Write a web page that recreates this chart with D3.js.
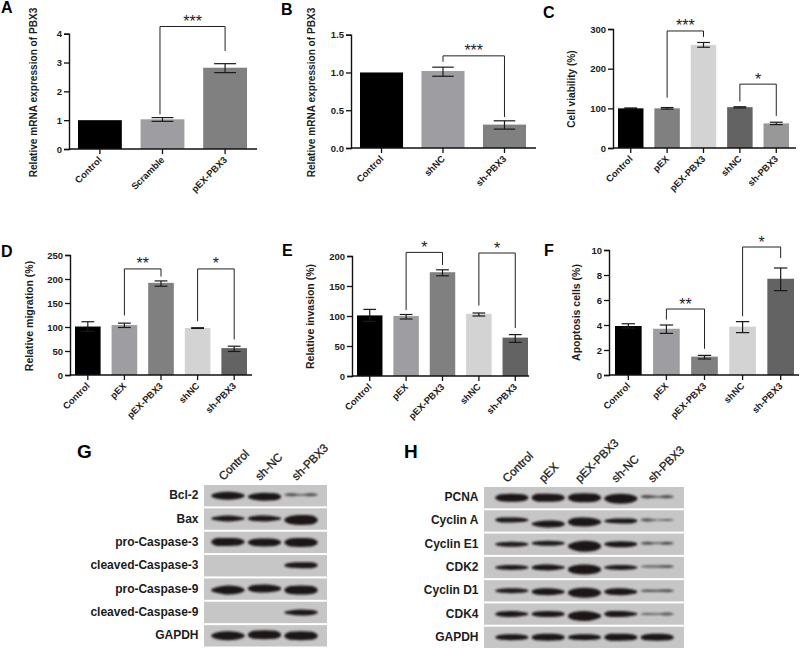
<!DOCTYPE html>
<html><head><meta charset="utf-8">
<script src="https://cdn.jsdelivr.net/npm/d3@7"></script>
<style>html,body{margin:0;padding:0;background:#fff}svg{display:block}text{font-family:"Liberation Sans",Arial,sans-serif;fill:#1c1c1c}</style>
</head><body><div id="c"></div>
<script>
// ---------- Data ----------
const catsA=["Control","Scramble","pEX-PBX3"];
const catsB=["Control","shNC","sh-PBX3"];
const catsFive=["Control","pEX","pEX-PBX3","shNC","sh-PBX3"];
const valsA=[1,1.03,2.82], lowA=[1,0.96,2.65], highA=[1,1.09,2.96];
const valsB=[1,1.02,0.31], lowB=[1,0.95,0.25], highB=[1,1.07,0.36];
const valsC=[100,100,260,103,62], lowC=[99,98,254,101,59], highC=[101,102,266,104,65];
const valsD=[101,104,192,98,56], lowD=[91,99,185,97,49], highD=[111,108,196,98.5,60];
const valsE=[101,100,173,103.6,64], lowE=[91,95,167,100,56], highE=[111,102.5,177,105,69];
const valsF=[3.92,3.7,1.47,3.87,7.7], lowF=[3.75,3.33,1.28,3.39,6.75], highF=[4.1,4.0,1.57,4.27,8.56];
const ticksA=[0,1,2,3,4], ticksB=[0,0.5,1,1.5], ticksC=[0,100,200,300], ticksD=[0,50,100,150,200,250], ticksE=[0,50,100,150,200], ticksF=[0,2,4,6,8,10];
const greysABD=["#000000","#9e9ea2","#808080","#d3d3d3","#636363"];
const greysAB=["#000000","#9e9ea2","#808080"];
const greysC=["#000000","#808080","#d3d3d3","#636363","#989898"];
// brackets: from index, to index, top value, left end value, right end value, stars
const bracketsA=[[0.96,2,4.25,1.2,3.4,"***"]];
const bracketsB=[[1,2,1.22,1.14,0.41,"***"]];
const bracketsC=[[1,2,295,127,280,"***"],[3,4,161,117,81,"*"]];
const bracketsD=[[1,2,221,124,205,"**"],[3,4,221,112,74,"*"]];
const bracketsE=[[1,2,206,110,185,"*"],[3,4,205,117.5,80,"*"]];
const bracketsF=[[1,2,5.28,4.43,2.1,"**"],[3,4,10.24,4.7,9.36,"*"]];
const lanesG=["Control","sh-NC","sh-PBX3"];
const rowsG=["Bcl-2","Bax","pro-Caspase-3","cleaved-Caspase-3","pro-Caspase-9","cleaved-Caspase-9","GAPDH"];
// band thickness left, middle, right, and vertical drift
const bandsG=[
 [[6,8,6,0],[6,8,7,1],[3,1.5,3,-1]],
 [[4,6,4,-.5],[5,6,4,-.5],[8,10,9,1]],
 [[8,8,7,-.5],[7,8,7,0],[8,9,8,0]],
 [null,null,[5,6,6,-.5]],
 [[6,9,7,1],[7,8,6,-.5],[8,9,8,1]],
 [null,null,[4,6,5,0]],
 [[7,9,7,0],[8,9,8,-1],[8,9,8,0]]];
const lanesH=["Control","pEX","pEX-PBX3","sh-NC","sh-PBX3"];
const rowsH=["PCNA","Cyclin A","Cyclin E1","CDK2","Cyclin D1","CDK4","GAPDH"];
const bandsH=[
 [[7,8,7,0],[8,8,7,0],[8,9,8,0],[8,10,8,1],[3.5,1.5,3,-1]],
 [[5,5,4,-1],[5,7,6,3],[8,9,7,1],[4,5,5,0],[3.5,1,2,-1]],
 [[4,5,4,0],[4,5,4,-1],[8,11,9,2],[5,6,5,0],[3,1.5,3,-1]],
 [[4,5,4,0],[5,6,4,0],[8,10,8,2],[4,5,4,0],[2,2,3,-1]],
 [[4,5,4,0],[6,7,5,1],[8,10,8,2],[6,7,5,1],[2.5,2,3,0]],
 [[5,6,4,0],[5,6,5,0],[8,10,7,2],[6,6,4,0],[2,1.5,3,0]],
 [[5,6,5,0],[6,7,6,0],[5,6,5,0],[7,7,6,0],[6,7,6,0]]];

// ---------- Drawing ----------
const svg=d3.select("#c").append("svg").attr("width",800).attr("height",648);
const defs=svg.append("defs");
defs.append("filter").attr("id","soft").attr("x","-20%").attr("y","-80%").attr("width","140%").attr("height","260%")
  .append("feGaussianBlur").attr("stdDeviation",0.9);

function barPanel(o){
  const g=svg.append("g");
  const x=d3.scaleBand().domain(o.cats).range(o.xr).paddingInner(o.pad||0.3).paddingOuter(0);
  const y=d3.scaleLinear().domain([o.ticks[0],o.ticks[o.ticks.length-1]]).range(o.yr);
  const cx=i=>x(o.cats[0])+x.bandwidth()/2+i*x.step();
  g.selectAll("rect").data(o.vals).join("rect")
    .attr("x",(d,i)=>x(o.cats[i])).attr("width",x.bandwidth())
    .attr("y",d=>y(d)).attr("height",d=>y(0)-y(d))
    .attr("fill",(d,i)=>o.colors[i]);
  // error bars
  const capW=x.bandwidth()/2;
  o.vals.forEach((d,i)=>{
    if(o.high[i]-o.low[i]<=0)return;
    const c=cx(i);
    const e=g.append("g").attr("stroke","#1a1a1a").attr("stroke-width",1.2);
    e.append("line").attr("x1",c).attr("x2",c).attr("y1",y(o.low[i])).attr("y2",y(o.high[i]));
    [o.low[i],o.high[i]].forEach(v=>e.append("line").attr("x1",c-capW/2).attr("x2",c+capW/2).attr("y1",y(v)).attr("y2",y(v)));
  });
  // axes
  const ya=d3.axisLeft(y).tickValues(o.ticks).tickSize(5).tickPadding(2).tickFormat(o.fmt||d3.format("d"));
  const xa=d3.axisBottom(x).tickSize(5).tickFormat("");
  const gy=g.append("g").attr("transform",`translate(${o.xAxisStart},0)`).call(ya);
  const gx=g.append("g").attr("transform",`translate(0,${y(0)})`).call(xa);
  gx.select(".domain").attr("d",`M${o.xAxisStart},0H${o.xAxisEnd}`);
  g.selectAll(".domain").attr("stroke","#111").attr("stroke-width",1.4);
  g.selectAll(".tick line").attr("stroke","#111").attr("stroke-width",1.3);
  gy.selectAll("text").attr("font-size",9.5).attr("font-weight","bold");
  // category labels
  o.cats.forEach((c,i)=>{
    g.append("text").attr("text-anchor","end").attr("font-size",9.4).attr("font-weight","bold")
     .attr("transform",`translate(${cx(i)+2.5},${y(0)+11.5}) rotate(-45)`).text(c);
  });
  // y title
  g.append("text").attr("text-anchor","middle").attr("font-size",o.tf||10.1).attr("font-weight","bold")
   .attr("transform",`translate(${o.tx},${o.ty}) rotate(-90)`).text(o.title);
  // brackets
  o.br.forEach(b=>{
    const x1=cx(b[0]),x2=cx(b[1]);
    g.append("path").attr("fill","none").attr("stroke","#222").attr("stroke-width",1)
      .attr("d",d3.line()([[x1,y(b[3])],[x1,y(b[2])],[x2,y(b[2])],[x2,y(b[4])]]));
    g.append("text").attr("text-anchor","middle").attr("font-size",16).attr("x",(x1+x2)/2).attr("y",y(b[2])+0.5).text(b[5]);
  });
}
const f1=d3.format(".1f");
barPanel({cats:catsA,vals:valsA,low:lowA,high:highA,colors:greysAB,ticks:ticksA,xr:[78,247],yr:[149,33.7],xAxisStart:69,xAxisEnd:257,tx:36.5,ty:92.5,title:"Relative mRNA expression of PBX3",br:bracketsA});
barPanel({cats:catsB,vals:valsB,low:lowB,high:highB,colors:greysAB,ticks:ticksB,fmt:f1,xr:[360,526],yr:[148,34.7],xAxisStart:351,xAxisEnd:536,tx:315,ty:92.5,title:"Relative mRNA expression of PBX3",br:bracketsB});
barPanel({cats:catsFive,vals:valsC,low:lowC,high:highC,colors:greysC,ticks:ticksC,xr:[618,789],yr:[148,29],xAxisStart:613,xAxisEnd:796,tx:574.5,ty:89,title:"Cell viability (%)",br:bracketsC});
barPanel({cats:catsFive,vals:valsD,low:lowD,high:highD,colors:greysABD,ticks:ticksD,xr:[75,247],yr:[375,255],xAxisStart:70,xAxisEnd:252,tx:32.5,ty:316,tf:10.5,title:"Relative migration (%)",br:bracketsD});
barPanel({cats:catsFive,vals:valsE,low:lowE,high:highE,colors:greysABD,ticks:ticksE,xr:[357,528],yr:[376,256],xAxisStart:352,xAxisEnd:529,tx:313.5,ty:316.5,tf:10.5,title:"Relative invasion (%)",br:bracketsE});
barPanel({cats:catsFive,vals:valsF,low:lowF,high:highF,colors:greysABD,ticks:ticksF,xr:[615,794],yr:[375,250],xAxisStart:609,xAxisEnd:799,tx:580,ty:312.5,tf:10.5,title:"Apoptosis cells (%)",br:bracketsF});

function blot(o){
  const g=svg.append("g");
  const yb=d3.scaleBand().domain(o.rows).range(o.yr).paddingInner(0.085).paddingOuter(0);
  const xb=d3.scaleBand().domain(o.lanes).range(o.lr).paddingInner(0.1).paddingOuter(0);
  const t=d3.scaleLinear().domain([0,1]);
  const op=d3.scaleLinear().domain([1.5,4.5]).range([0.5,1]).clamp(true);
  o.rows.forEach((r,ri)=>{
    g.append("rect").attr("x",o.sx[0]).attr("width",o.sx[1]-o.sx[0]).attr("y",yb(r)).attr("height",yb.bandwidth()).attr("fill","#c6c6c6");
    g.append("text").attr("text-anchor","end").attr("font-size",12).attr("font-weight","bold")
      .attr("x",o.sx[0]-5.5).attr("y",yb(r)+yb.bandwidth()/2+3.5).text(r);
    o.bands[ri].forEach((b,li)=>{
      if(!b)return;
      const x0=xb(o.lanes[li]), w=xb.bandwidth(), cy=yb(r)+yb.bandwidth()/2+b[3];
      t.range([x0,x0+w]);
      const prof=[[0,b[0]*.35],[.18,b[0]],[.5,b[1]],[.82,b[2]],[1,b[2]*.35]];
      const area=d3.area().x(p=>t(p[0])).y0(p=>cy-p[1]/2).y1(p=>cy+p[1]/2).curve(d3.curveMonotoneX);
      g.append("path").attr("d",area(prof)).attr("fill","#1c1414").attr("filter","url(#soft)")
        .attr("opacity",op((b[0]+b[1]+b[2])/3));
    });
  });
  o.lanes.forEach((l,i)=>{
    const c=xb(l)+xb.bandwidth()/2;
    g.append("text").attr("font-size",11.6).attr("font-weight","normal").attr("stroke","#1c1c1c").attr("stroke-width",0.3)
      .attr("transform",`translate(${c-4.5},${o.yr[0]-4}) rotate(-45)`).text(l);
  });
}
blot({rows:rowsG,lanes:lanesG,bands:bandsG,yr:[485,646.5],lr:[211.5,317.5],sx:[204,327]});
blot({rows:rowsH,lanes:lanesH,bands:bandsH,yr:[487,648],lr:[495.5,673.5],sx:[484,684]});

// panel letters
const lettersText=["A","B","C","D","E","F","G","H"];
const lettersX=[1,281,543,1,282,544,77,404];
const lettersY=[13,14.5,18,257,256,256,458,458];
const lettersS=[16,16,16,16,16,16,19,19];
lettersText.forEach((t,i)=>svg.append("text").attr("x",lettersX[i]).attr("y",lettersY[i]).attr("font-size",lettersS[i]).attr("font-weight","bold").style("fill","#000").text(t));
</script></body></html>
